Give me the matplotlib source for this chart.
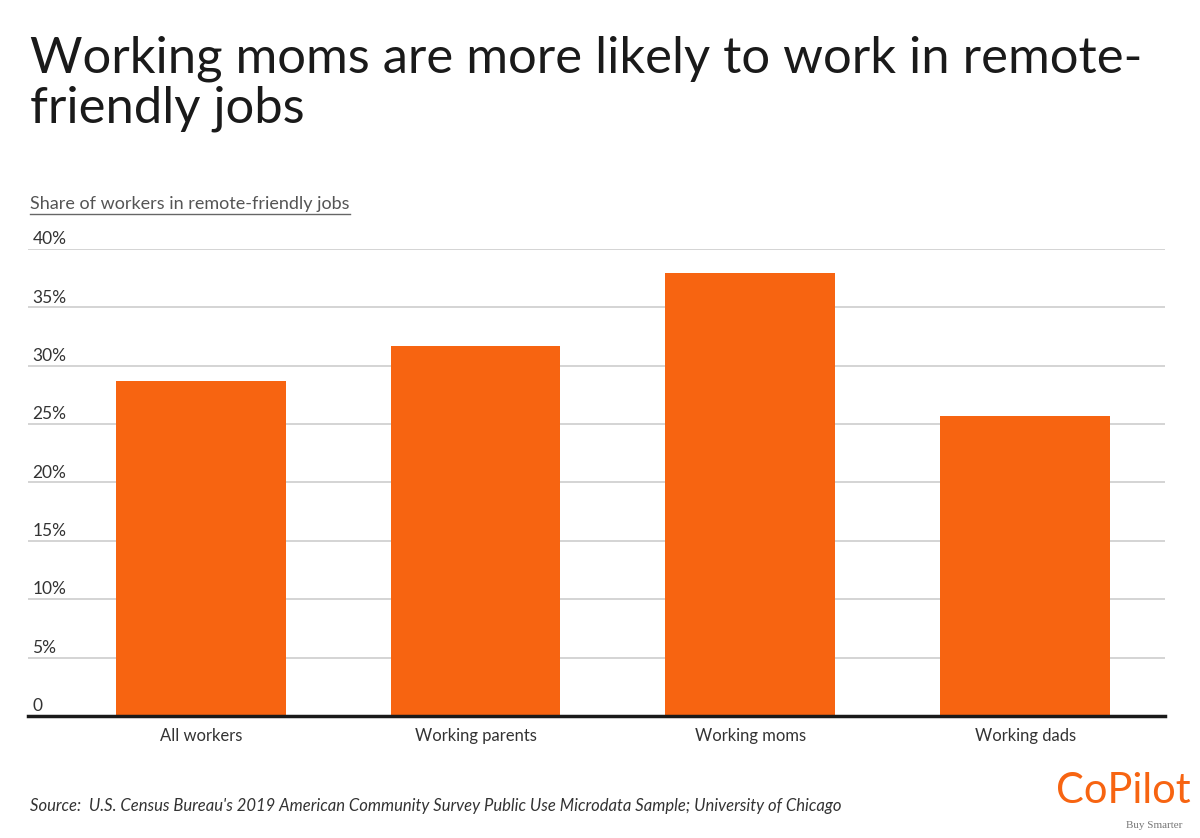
import matplotlib.pyplot as plt
from matplotlib.lines import Line2D

# Data
categories = ['All workers', 'Working parents', 'Working moms', 'Working dads']
share = [28.7, 31.7, 37.9, 25.7]
yticks = [0, 5, 10, 15, 20, 25, 30, 35, 40]
ytick_labels = ['0', '5%', '10%', '15%', '20%', '25%', '30%', '35%', '40%']

orange = '#f76411'
plt.rcParams['font.family'] = ['Lato', 'DejaVu Sans']

fig = plt.figure(figsize=(12, 8.38), dpi=100)
ax = fig.add_axes([0.0233, 0.1456, 0.9475, 0.5573])

x = range(len(categories))
ax.bar(x, share, width=0.618, color=orange, zorder=2)

ax.set_xlim(-0.629, 3.509)
ax.set_ylim(0, 40)
ax.set_yticks(yticks)
ax.set_yticklabels([])
ax.yaxis.grid(True, color='#d4d4d4', linewidth=1.4, zorder=0)
ax.tick_params(axis='y', length=0)
ax.set_xticks(list(x))
ax.set_xticklabels(categories, fontsize=12, color='#333333')
ax.tick_params(axis='x', length=0, pad=9)
for s in ['top', 'right', 'left']:
    ax.spines[s].set_visible(False)
ax.spines['bottom'].set_linewidth(2.5)
ax.spines['bottom'].set_color('#1a1a1a')
ax.spines['bottom'].set_zorder(3)

# y labels sit just above the gridlines at the left edge
for v, lab in zip(yticks, ytick_labels):
    ax.text(0.004, v + 0.15, lab, transform=ax.get_yaxis_transform(), ha='left',
            va='bottom', fontsize=12.5, color='#333333')

fig.text(0.025, 0.958, 'Working moms are more likely to work in remote-\nfriendly jobs',
         ha='left', va='top', fontsize=36.5, color='#1a1a1a', linespacing=1.1)

sub = fig.text(0.025, 0.750, 'Share of workers in remote-friendly jobs',
               ha='left', va='baseline', fontsize=13, color='#555555')
fig.canvas.draw()
bb = sub.get_window_extent().transformed(fig.transFigure.inverted())
fig.add_artist(Line2D([bb.x0, bb.x1], [0.745, 0.745], color='#666666', linewidth=1.0,
                      transform=fig.transFigure))

fig.text(0.025, 0.032, "Source:  U.S. Census Bureau's 2019 American Community Survey Public Use Microdata Sample; University of Chicago",
         ha='left', va='baseline', fontsize=12, style='italic', color='#333333')

fig.text(0.992, 0.042, 'CoPilot', ha='right', va='baseline', fontsize=30, color=orange)
fig.text(0.985, 0.012, 'Buy Smarter', ha='right', va='baseline', fontsize=8,
         color='#777777', family='Liberation Serif')

fig.savefig('out.png', dpi=100)
